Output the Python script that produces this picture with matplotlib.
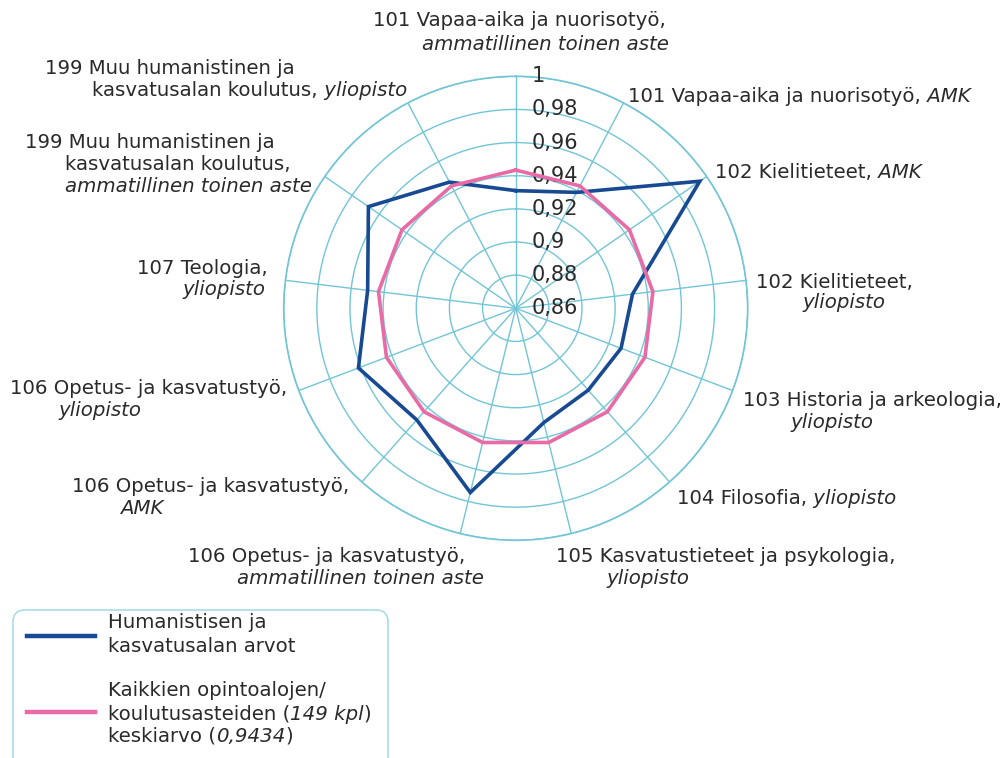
import numpy as np
import matplotlib
matplotlib.use('Agg')
import matplotlib.pyplot as plt
from matplotlib.patches import FancyBboxPatch
from matplotlib.lines import Line2D
from matplotlib.transforms import IdentityTransform

plt.rcParams['font.family'] = 'DejaVu Sans'

# data, clockwise from the top spoke
categories = ['101 amm.', '101 AMK', '102 AMK', '102 yo', '103 yo', '104 yo', '105 yo',
              '106 amm.', '106 AMK', '106 yo', '107 yo', '199 amm.', '199 yo']
group_values = [0.931, 0.939, 0.995, 0.931, 0.928, 0.926, 0.931,
                0.9745, 0.950, 0.9615, 0.950, 0.968, 0.946]
average_value = 0.9434
ring_values = [0.86, 0.88, 0.90, 0.92, 0.94, 0.96, 0.98, 1.0]
ring_labels = ['0,86', '0,88', '0,9', '0,92', '0,94', '0,96', '0,98', '1']

# spoke labels: (x_left px, y_center px, [(text, italic), ...])
label_lines = [
    (373, 21, [('101 Vapaa-aika ja nuorisotyö,', False)]),
    (422, 45, [('ammatillinen toinen aste', True)]),
    (628, 97, [('101 Vapaa-aika ja nuorisotyö,', False), (' AMK', True)]),
    (715, 172, [('102 Kielitieteet,', False), (' AMK', True)]),
    (756, 283, [('102 Kielitieteet,', False)]),
    (803, 303, [('yliopisto', True)]),
    (743, 400, [('103 Historia ja arkeologia,', False)]),
    (790, 422, [('yliopisto', True)]),
    (677, 498, [('104 Filosofia,', False), (' yliopisto', True)]),
    (556, 557, [('105 Kasvatustieteet ja psykologia,', False)]),
    (607, 579, [('yliopisto', True)]),
    (188, 557, [('106 Opetus- ja kasvatustyö,', False)]),
    (237, 579, [('ammatillinen toinen aste', True)]),
    (72, 487, [('106 Opetus- ja kasvatustyö,', False)]),
    (120, 508, [('AMK', True)]),
    (10, 388, [('106 Opetus- ja kasvatustyö,', False)]),
    (58, 410, [('yliopisto', True)]),
    (137, 268, [('107 Teologia,', False)]),
    (183, 290, [('yliopisto', True)]),
    (25, 143, [('199 Muu humanistinen ja', False)]),
    (65, 165, [('kasvatusalan koulutus,', False)]),
    (65, 187, [('ammatillinen toinen aste', True)]),
    (45, 68, [('199 Muu humanistinen ja', False)]),
    (92, 90, [('kasvatusalan koulutus,', False), (' yliopisto', True)]),
]

legend_lines = [
    (108, 623, [('Humanistisen ja', False)]),
    (108, 647, [('kasvatusalan arvot', False)]),
    (108, 690, [('Kaikkien opintoalojen/', False)]),
    (108, 714, [('koulutusasteiden (', False), ('149 kpl', True), (')', False)]),
    (108, 736, [('keskiarvo (', False), ('0,9434', True), (')', False)]),
]

W, H = 1005, 758
cx, cy, R = 515.7, 308.3, 232
grid_color = '#72c5d6'
blue = '#174a92'
pink = '#ea6aa6'
text_color = '#2a2a2a'
fs = 14.2

fig = plt.figure(figsize=(W / 100, H / 100), dpi=100)
renderer = fig.canvas.get_renderer()


def rich_line(x, y, parts):
    # draw one line made of upright and italic pieces, left to right
    for txt, it in parts:
        t = fig.text(x / W, 1 - y / H, txt, ha='left', va='center', fontsize=fs,
                     color=text_color, style='italic' if it else 'normal')
        x += t.get_window_extent(renderer).width


ax = fig.add_axes([(cx - R) / W, (H - cy - R) / H, 2 * R / W, 2 * R / H], projection='polar')
ax.set_theta_zero_location('N')
ax.set_theta_direction(-1)
ax.set_ylim(ring_values[0], ring_values[-1])

theta = np.linspace(0, 2 * np.pi, len(categories), endpoint=False)
ax.set_thetagrids(np.degrees(theta), labels=[''] * len(categories))
ax.set_rgrids(ring_values[1:], labels=[''] * (len(ring_values) - 1))
ax.grid(color=grid_color, lw=1.0)
ax.spines['polar'].set_color(grid_color)
ax.spines['polar'].set_linewidth(1.2)
ax.tick_params(length=0)

t_closed = np.append(theta, theta[0])
g_closed = np.append(group_values, group_values[0])
avg_closed = np.full(len(t_closed), average_value)
ax.plot(t_closed, g_closed, color=blue, lw=2.6, zorder=4, solid_joinstyle='miter')
ax.plot(t_closed, avg_closed, color=pink, lw=2.6, zorder=5, solid_joinstyle='miter')

for v, lab in zip(ring_values, ring_labels):
    ax.annotate(lab, xy=(0, v), xytext=(16, 0), textcoords='offset pixels',
                ha='left', va='center', fontsize=15, color=text_color, zorder=3)

for x, y, parts in label_lines:
    rich_line(x, y, parts)

# legend box (runs off the bottom edge like the original)
box = FancyBboxPatch((13, -30), 375, H - 610 + 30,
                     boxstyle='round,pad=0,rounding_size=12',
                     transform=IdentityTransform(), facecolor='white',
                     edgecolor='#a9dde8', lw=1.2)
fig.patches.append(box)
for color, y in [(blue, 636), (pink, 712)]:
    fig.add_artist(Line2D([27 / W, 95 / W], [1 - y / H, 1 - y / H], color=color,
                          lw=3.2, transform=fig.transFigure))
for x, y, parts in legend_lines:
    rich_line(x, y, parts)

fig.savefig('out.png', dpi=100)
